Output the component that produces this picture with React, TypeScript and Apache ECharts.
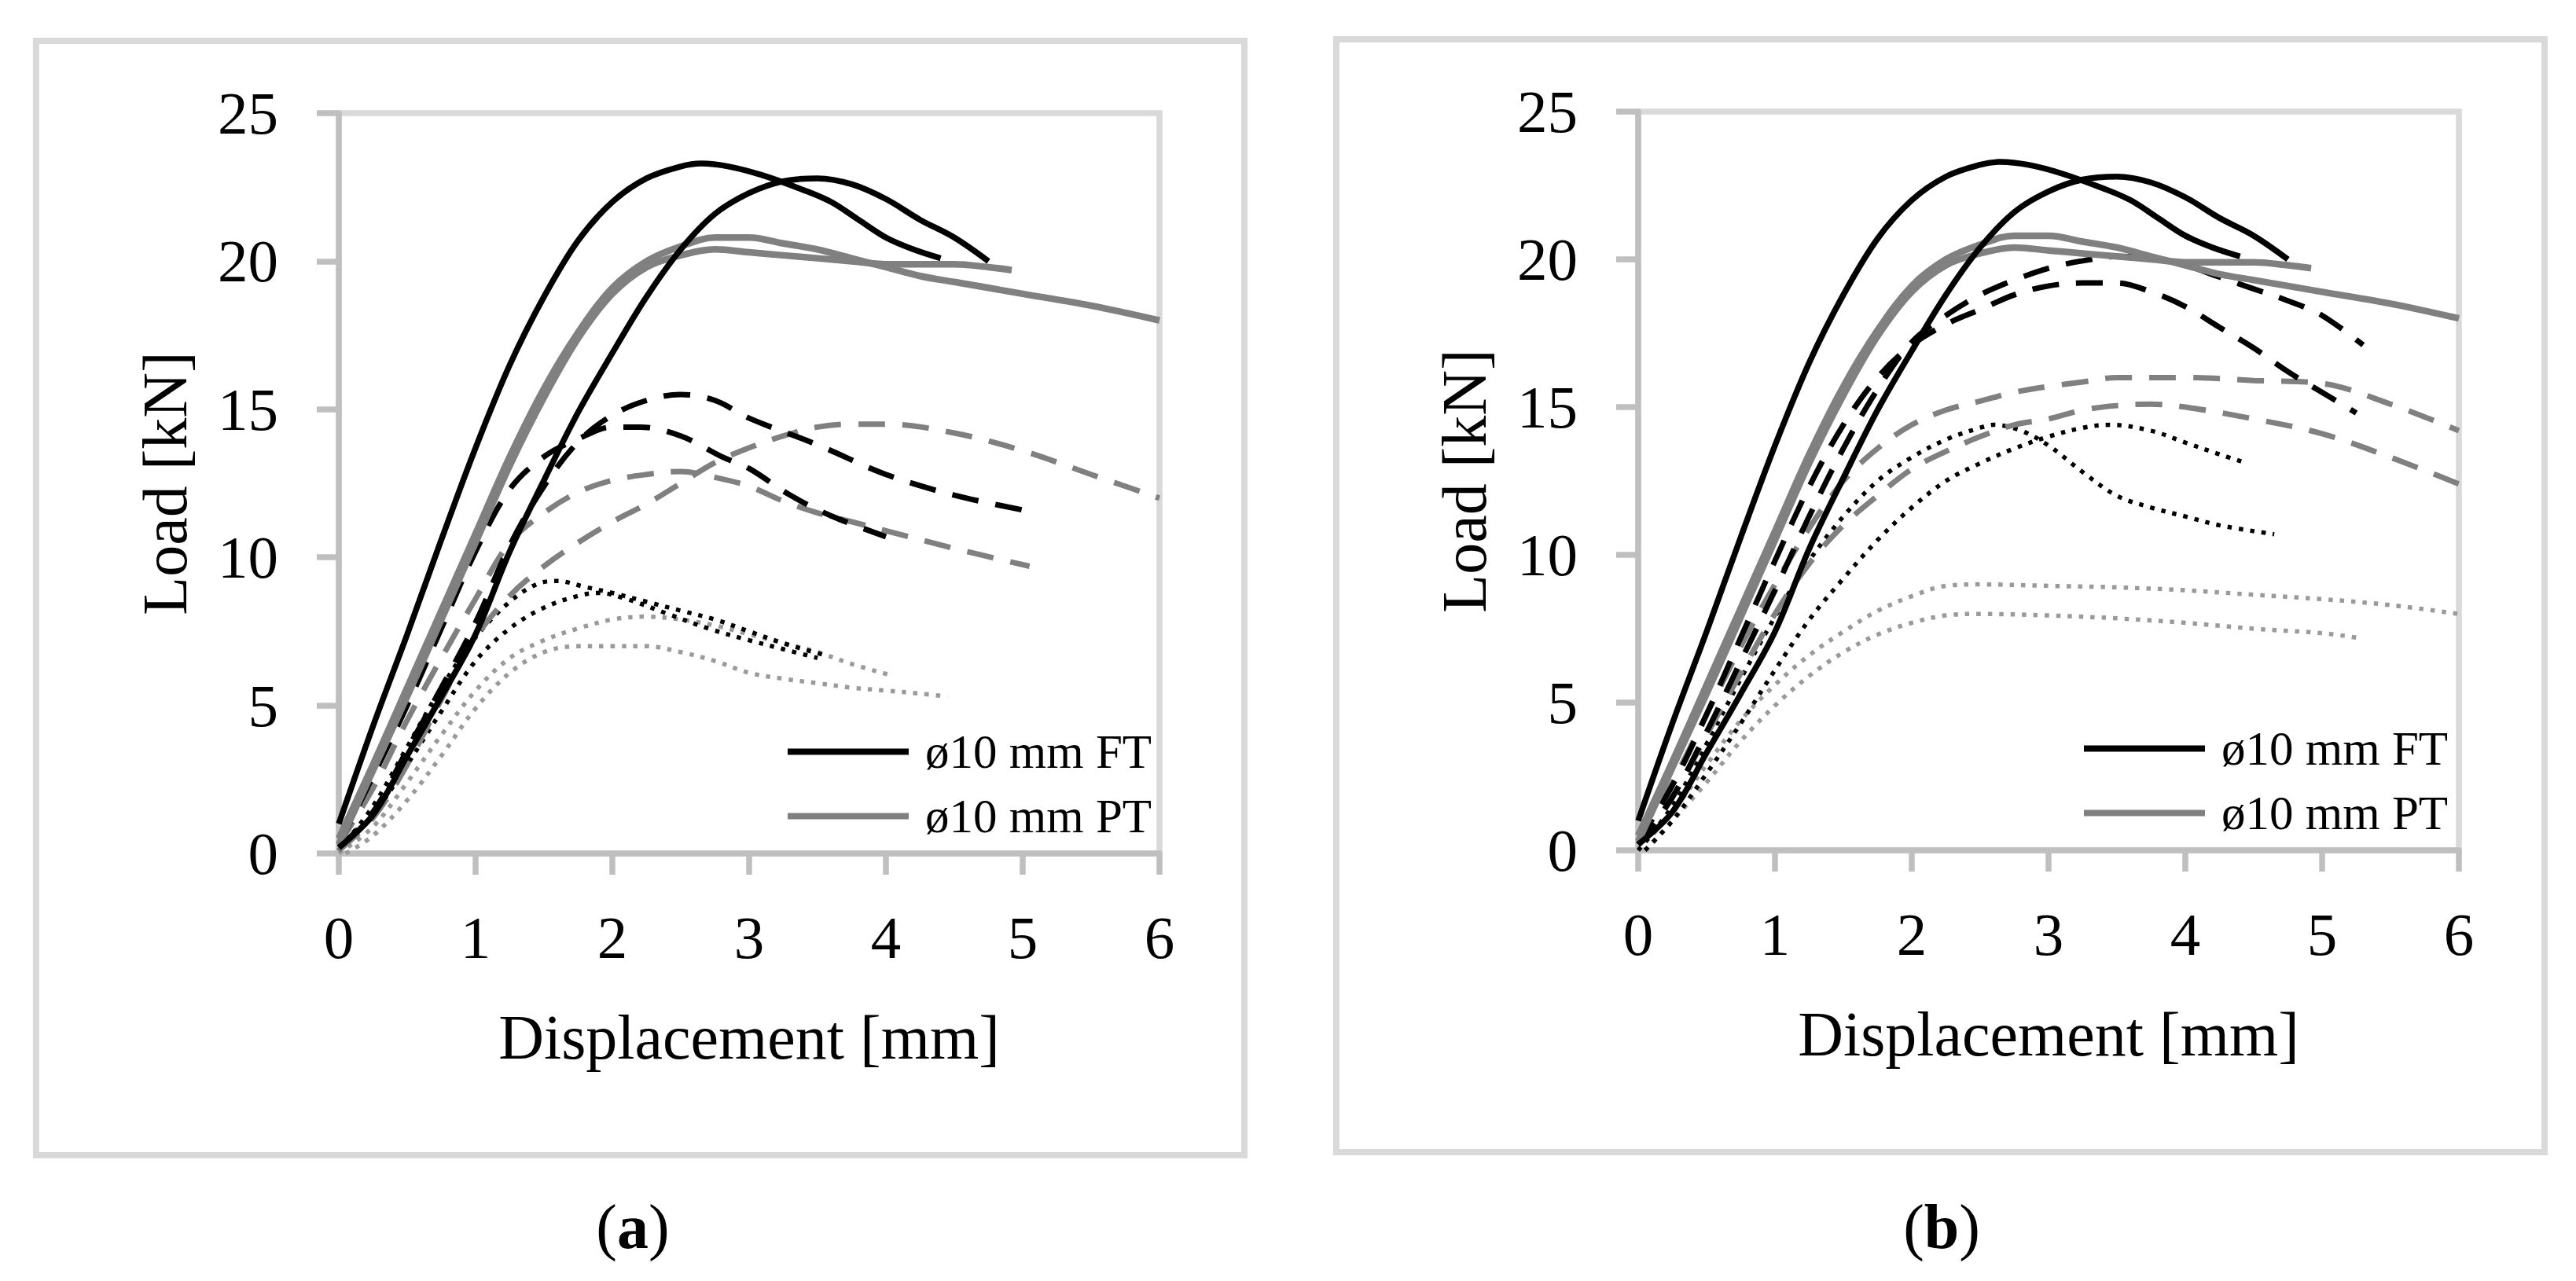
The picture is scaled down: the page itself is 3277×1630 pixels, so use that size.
import React, { useEffect, useRef } from "react";
import * as echarts from "echarts";

// ---------- tick values ----------
const xTicks = [0, 1, 2, 3, 4, 5, 6];
const yTicks = [0, 5, 10, 15, 20, 25];
const legendNames = ["ø10 mm FT", "ø10 mm PT"];
const panelLabels = ["a", "b"];

// ---------- common curves (both panels) ----------
const ftSolid1 = [[0,1.0],[0.25,4.3],[0.5,7.4],[0.75,10.6],[1,13.7],[1.25,16.5],[1.5,18.8],[1.75,20.7],[2,22.0],[2.25,22.8],[2.5,23.2],[2.65,23.3],[2.85,23.2],[3.1,22.9],[3.4,22.4],[3.6,22.0],[3.8,21.4],[4.0,20.8],[4.2,20.4],[4.4,20.1]];
const ftSolid2 = [[0,0.2],[0.25,1.3],[0.5,3.3],[0.75,5.3],[1,7.4],[1.25,10.2],[1.5,12.6],[1.75,14.9],[2,16.9],[2.25,18.8],[2.5,20.4],[2.75,21.6],[3,22.3],[3.25,22.7],[3.5,22.8],[3.75,22.6],[4,22.1],[4.25,21.4],[4.5,20.8],[4.75,20.0]];
const ptSolid1 = [[0,0.5],[0.25,3.0],[0.5,5.6],[0.75,8.2],[1,10.8],[1.25,13.4],[1.5,15.7],[1.75,17.6],[2,19.1],[2.25,20.0],[2.5,20.5],[2.75,20.8],[3,20.8],[3.25,20.6],[3.5,20.4],[3.75,20.1],[4,19.8],[4.25,19.5],[4.5,19.3],[5,18.9],[5.5,18.5],[6,18.0]];
const ptSolid2 = [[0,0.3],[0.25,2.8],[0.5,5.3],[0.75,7.9],[1,10.5],[1.25,13.1],[1.5,15.4],[1.75,17.4],[2,18.9],[2.25,19.8],[2.5,20.2],[2.75,20.4],[3,20.3],[3.25,20.2],[3.5,20.1],[3.75,20.0],[4,19.9],[4.25,19.9],[4.5,19.9],[4.75,19.8],[4.92,19.7]];

// ---------- panel (a) ----------
const aFtDash1 = [[0,0.2],[0.25,1.4],[0.5,3.5],[0.75,5.6],[1,7.8],[1.25,10.4],[1.5,12.4],[1.75,13.9],[2,14.8],[2.25,15.3],[2.5,15.5],[2.75,15.3],[3,14.7],[3.5,13.8],[4,12.8],[4.5,12.1],[5.0,11.6]];
const aFtDash2 = [[0,0.3],[0.25,2.6],[0.5,5.0],[0.75,7.6],[1,10.2],[1.25,12.3],[1.5,13.4],[1.75,14.0],[2,14.4],[2.2,14.4],[2.5,14.1],[2.8,13.4],[3,13.0],[3.3,12.1],[3.6,11.4],[4,10.7]];
const aPtDash1 = [[0,0.1],[0.25,1.2],[0.5,3.0],[0.75,5.2],[1,7.3],[1.25,8.7],[1.5,9.7],[1.75,10.5],[2,11.2],[2.25,11.8],[2.5,12.5],[2.75,13.2],[3,13.7],[3.25,14.1],[3.5,14.4],[3.75,14.5],[4,14.5],[4.5,14.2],[5,13.6],[5.5,12.8],[6,12.0]];
const aPtDash2 = [[0,0.3],[0.25,2.2],[0.5,4.5],[0.75,6.6],[1,8.6],[1.25,10.5],[1.5,11.5],[1.75,12.2],[2,12.6],[2.25,12.8],[2.5,12.9],[2.75,12.7],[3,12.4],[3.25,11.9],[3.5,11.5],[3.75,11.2],[4,10.9],[4.5,10.3],[5.05,9.7]];
const aFtDot1 = [[0,0.1],[0.25,1.6],[0.5,3.6],[0.75,5.6],[1,7.3],[1.25,8.5],[1.45,9.1],[1.6,9.2],[1.8,9.0],[2,8.8],[2.25,8.5],[2.5,8.2],[2.75,7.9],[3,7.5],[3.25,7.1],[3.55,6.7]];
const aFtDot2 = [[0,0.1],[0.25,1.3],[0.5,3.0],[0.75,4.8],[1,6.5],[1.25,7.6],[1.5,8.3],[1.75,8.7],[1.9,8.8],[2.1,8.6],[2.4,8.1],[2.7,7.6],[3,7.2],[3.25,6.9],[3.5,6.6]];
const aPtDot1 = [[0,0],[0.25,0.9],[0.5,2.4],[0.75,4.0],[1,5.5],[1.25,6.6],[1.5,7.2],[1.75,7.6],[2,7.9],[2.25,8.0],[2.5,7.9],[2.75,7.7],[3,7.4],[3.25,7.1],[3.5,6.8],[3.75,6.4],[4.05,6.0]];
const aPtDot2 = [[0.05,0],[0.25,0.6],[0.5,1.8],[0.75,3.3],[1,4.9],[1.25,6.1],[1.5,6.8],[1.75,7.0],[2,7.0],[2.25,7.0],[2.5,6.8],[2.75,6.5],[3,6.1],[3.25,5.9],[3.5,5.75],[3.75,5.6],[4,5.5],[4.25,5.4],[4.45,5.3]];

// ---------- panel (b) ----------
const bFtDash1 = [[0,0.2],[0.25,1.8],[0.5,4.0],[0.75,6.4],[1,8.8],[1.25,11.3],[1.5,13.6],[1.75,15.6],[2,17.2],[2.25,18.1],[2.5,18.8],[2.75,19.3],[3,19.7],[3.25,19.95],[3.5,20.1],[3.75,20.05],[4,19.8],[4.25,19.4],[4.5,19.0],[4.75,18.6],[5,18.1],[5.3,17.1]];
const bFtDash2 = [[0,0.3],[0.25,2.2],[0.5,4.6],[0.75,7.2],[1,9.8],[1.25,12.3],[1.5,14.4],[1.75,16.0],[2,17.1],[2.25,17.8],[2.5,18.3],[2.75,18.8],[3,19.1],[3.25,19.2],[3.5,19.2],[3.75,18.9],[4,18.4],[4.25,17.7],[4.5,17.0],[4.75,16.2],[5,15.5],[5.25,14.8]];
const bPtDash1 = [[0,0.3],[0.25,2.3],[0.5,4.6],[0.75,6.9],[1,9.0],[1.25,10.9],[1.5,12.5],[1.75,13.6],[2,14.4],[2.25,14.9],[2.5,15.2],[2.75,15.5],[3,15.7],[3.25,15.85],[3.5,16.0],[3.75,16.0],[4,16.0],[4.5,15.9],[5,15.8],[5.5,15.1],[6,14.2]];
const bPtDash2 = [[0,0.2],[0.25,1.8],[0.5,3.9],[0.75,6.0],[1,8.0],[1.25,9.7],[1.5,11.0],[1.75,12.0],[2,12.9],[2.25,13.5],[2.5,14.0],[2.75,14.4],[3,14.6],[3.25,14.9],[3.5,15.05],[3.75,15.1],[4,15.0],[4.5,14.6],[5,14.1],[5.5,13.3],[6,12.4]];
const bFtDot1 = [[0,0],[0.25,1.5],[0.5,3.6],[0.75,5.8],[1,7.9],[1.25,9.8],[1.5,11.3],[1.75,12.5],[2,13.3],[2.25,13.9],[2.5,14.3],[2.6,14.4],[2.8,14.2],[3,13.7],[3.25,12.8],[3.5,12.0],[3.75,11.6],[4,11.3],[4.25,11.0],[4.65,10.7]];
const bFtDot2 = [[0.05,0],[0.25,1.0],[0.5,2.6],[0.75,4.3],[1,6.1],[1.25,7.8],[1.5,9.2],[1.75,10.5],[2,11.6],[2.25,12.5],[2.5,13.1],[2.75,13.6],[3,14.0],[3.25,14.3],[3.45,14.4],[3.75,14.2],[4,13.8],[4.25,13.4],[4.45,13.1]];
const bPtDot1 = [[0,0],[0.25,1.3],[0.5,2.9],[0.75,4.4],[1,5.6],[1.25,6.6],[1.5,7.4],[1.75,8.1],[2,8.6],[2.25,8.95],[2.5,9.0],[3,8.95],[3.5,8.9],[4,8.8],[4.5,8.65],[5,8.5],[5.5,8.3],[6,8.0]];
const bPtDot2 = [[0.05,0],[0.25,1.0],[0.5,2.3],[0.75,3.7],[1,4.9],[1.25,5.9],[1.5,6.7],[1.75,7.3],[2,7.7],[2.25,7.95],[2.5,8.0],[3,7.95],[3.5,7.85],[4,7.7],[4.5,7.5],[5,7.35],[5.25,7.2]];

const FONT = "Liberation Serif";
const BLACK = "#000000";
const GRAY = "#808080";
const LGRAY = "#9a9a9a";
const AXIS = "#bfbfbf";
const FRAME = "#d9d9d9";

type Kind = "solid" | "dash" | "dot";

function line(name: string, data: number[][], idx: number, color: string, kind: Kind, wide = false) {
  const width = kind === "dot" ? 5.5 : kind === "dash" ? 7 : wide ? 8.5 : 7.5;
  const type = kind === "solid" ? "solid" : kind === "dash" ? [34, 22] : [5.5, 9];
  return {
    type: "line",
    name,
    data,
    xAxisIndex: idx,
    yAxisIndex: idx,
    showSymbol: false,
    symbol: "none",
    smooth: 0.35,
    color,
    itemStyle: { color },
    lineStyle: { color, width, type, cap: "butt" },
    silent: true,
    z: kind === "solid" ? 3 : 2,
  };
}

function panelSeries(idx: number, extra: { name: string; data: number[][]; color: string; kind: Kind }[]) {
  return [
    ...extra.map((e) => line(e.name, e.data, idx, e.color, e.kind)),
    line(legendNames[1], ptSolid1, idx, GRAY, "solid", true),
    line(legendNames[1], ptSolid2, idx, GRAY, "solid", true),
    line(legendNames[0], ftSolid1, idx, BLACK, "solid"),
    line(legendNames[0], ftSolid2, idx, BLACK, "solid"),
  ];
}

const grids = [
  { left: 431, top: 144, width: 1044, height: 942 },
  { left: 2084, top: 142, width: 1044, height: 940 },
];

export default function App() {
  const ref = useRef<HTMLDivElement>(null);
  useEffect(() => {
    document.body.style.margin = "0";
    if (!ref.current) return;
    const chart = echarts.init(ref.current, null, { renderer: "svg" });

    const xAxis = grids.map((_, i) => ({
      type: "value",
      gridIndex: i,
      min: xTicks[0],
      max: xTicks[xTicks.length - 1],
      interval: 1,
      name: "Displacement [mm]",
      nameLocation: "middle",
      nameGap: 194,
      nameTextStyle: { fontFamily: FONT, fontSize: 80, color: BLACK },
      axisLine: { show: true, onZero: false, lineStyle: { color: AXIS, width: 7.5 } },
      axisTick: { show: true, inside: false, length: 27, lineStyle: { color: AXIS, width: 7.5 } },
      axisLabel: { fontFamily: FONT, fontSize: 77, color: BLACK, margin: 68 },
      splitLine: { show: false },
    }));
    const yAxis = grids.map((_, i) => ({
      type: "value",
      gridIndex: i,
      min: yTicks[0],
      max: yTicks[yTicks.length - 1],
      interval: 5,
      name: "Load [kN]",
      nameLocation: "middle",
      nameGap: 181,
      nameTextStyle: { fontFamily: FONT, fontSize: 80, color: BLACK },
      axisLine: { show: true, lineStyle: { color: AXIS, width: 7.5 } },
      axisTick: { show: true, inside: false, length: 28, lineStyle: { color: AXIS, width: 7.5 } },
      axisLabel: { fontFamily: FONT, fontSize: 77, color: BLACK, margin: 77 },
      splitLine: { show: false },
    }));

    const series = [
      ...panelSeries(0, [
        { name: "a dotted PT 1", data: aPtDot1, color: LGRAY, kind: "dot" },
        { name: "a dotted PT 2", data: aPtDot2, color: LGRAY, kind: "dot" },
        { name: "a dotted FT 1", data: aFtDot1, color: BLACK, kind: "dot" },
        { name: "a dotted FT 2", data: aFtDot2, color: BLACK, kind: "dot" },
        { name: "a dashed PT 1", data: aPtDash1, color: GRAY, kind: "dash" },
        { name: "a dashed PT 2", data: aPtDash2, color: GRAY, kind: "dash" },
        { name: "a dashed FT 1", data: aFtDash1, color: BLACK, kind: "dash" },
        { name: "a dashed FT 2", data: aFtDash2, color: BLACK, kind: "dash" },
      ]),
      ...panelSeries(1, [
        { name: "b dotted PT 1", data: bPtDot1, color: LGRAY, kind: "dot" },
        { name: "b dotted PT 2", data: bPtDot2, color: LGRAY, kind: "dot" },
        { name: "b dotted FT 1", data: bFtDot1, color: BLACK, kind: "dot" },
        { name: "b dotted FT 2", data: bFtDot2, color: BLACK, kind: "dot" },
        { name: "b dashed PT 1", data: bPtDash1, color: GRAY, kind: "dash" },
        { name: "b dashed PT 2", data: bPtDash2, color: GRAY, kind: "dash" },
        { name: "b dashed FT 1", data: bFtDash1, color: BLACK, kind: "dash" },
        { name: "b dashed FT 2", data: bFtDash2, color: BLACK, kind: "dash" },
      ]),
    ];

    const legendPos = [
      { left: 997, top: 921 },
      { left: 2646, top: 917 },
    ];
    const legend = legendPos.map((p) => ({
      ...p,
      orient: "vertical",
      data: legendNames,
      icon: "rect",
      itemWidth: 154,
      itemHeight: 8,
      itemGap: 21,
      selectedMode: false,
      textStyle: { fontFamily: FONT, fontSize: 61, color: BLACK, lineHeight: 60, padding: [0, 0, 0, 16] },
    }));

    const frames = [
      { x: 46, y: 52, width: 1537, height: 1418 },
      { x: 1700, y: 50, width: 1537, height: 1416 },
    ];
    const labelCenters = [805, 2470];

    const graphic = [
      ...frames.map((f) => ({
        type: "rect",
        shape: f,
        style: { fill: "none", stroke: FRAME, lineWidth: 8 },
        silent: true,
        z: -1,
      })),
      ...labelCenters.map((cx, i) => ({
        type: "text",
        x: cx,
        y: 1561,
        style: {
          text: `{n|(}{b|${panelLabels[i]}}{n|)}`,
          align: "center",
          verticalAlign: "middle",
          rich: {
            n: { fontFamily: FONT, fontSize: 80, color: BLACK },
            b: { fontFamily: FONT, fontSize: 80, fontWeight: "bold", color: BLACK },
          },
        },
        silent: true,
      })),
    ];

    chart.setOption({
      animation: false,
      backgroundColor: "#ffffff",
      textStyle: { fontFamily: FONT },
      grid: grids.map((g) => ({ ...g, show: true, borderColor: FRAME, borderWidth: 7.5, backgroundColor: "transparent", containLabel: false })),
      xAxis,
      yAxis,
      legend,
      series,
      graphic,
    });
    return () => chart.dispose();
  }, []);
  return <div ref={ref} style={{ width: 3277, height: 1630 }} />;
}
